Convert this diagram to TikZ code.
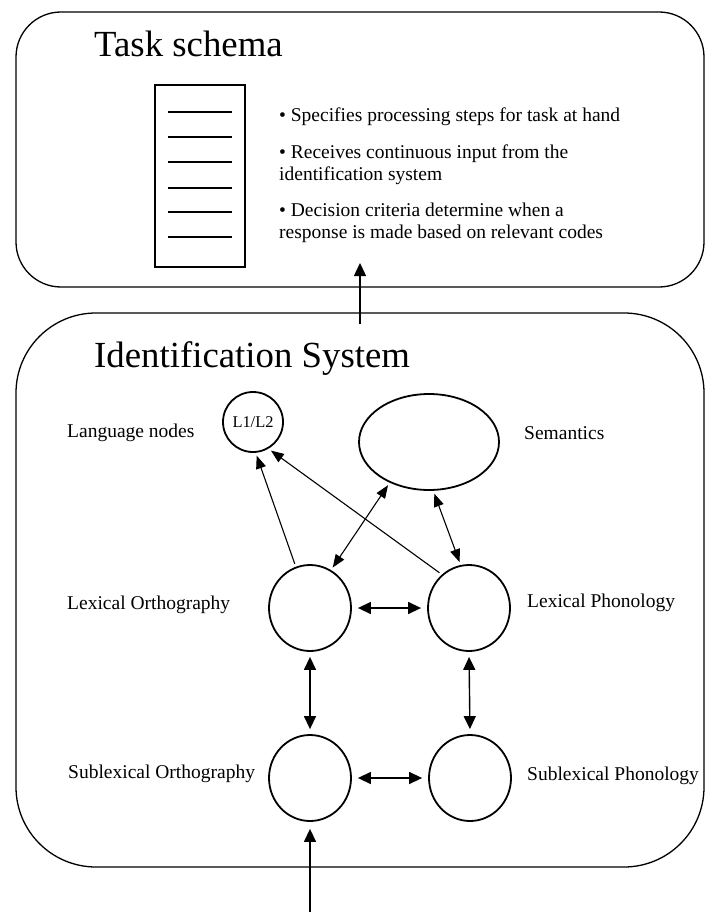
\documentclass[tikz,border=0pt]{standalone}
\usepackage{fontspec}
\setmainfont{Liberation Serif}
\usetikzlibrary{shapes.geometric,arrows.meta}
\begin{document}
\begin{tikzpicture}[x=1pt,y=-1pt,
  box/.style={draw, line width=1.3pt, inner sep=0},
  unit/.style={draw, ellipse, line width=1.8pt, inner sep=0, minimum width=82pt, minimum height=86pt},
  lab/.style={anchor=base west, inner sep=0, font=\fontsize{19.5}{23}\selectfont},
  ttl/.style={anchor=base west, inner sep=0, font=\fontsize{36.8}{40}\selectfont},
  bul/.style={anchor=base west, inner sep=0, align=left, font=\fontsize{19.5}{21.5}\selectfont},
  bigtip/.style={line width=1.4pt, -{Triangle[length=13pt,width=12pt]}},
  bigboth/.style={line width=1.4pt, {Triangle[length=13pt,width=12pt]}-{Triangle[length=13pt,width=12pt]}},
  smtip/.style={line width=1.1pt, -{Triangle[length=13pt,width=10pt]}, shorten >=3pt, shorten <=3pt},
  smboth/.style={line width=1.1pt, {Triangle[length=13pt,width=10pt]}-{Triangle[length=13pt,width=10pt]}, shorten >=3pt, shorten <=3pt}
]
\useasboundingbox (0,0) rectangle (705,912);

% Task schema box
\node[box, rounded corners=45pt, minimum width=688pt, minimum height=275pt] (task) at (360,149.5) {};
\node[ttl] (tasktitle) at (94,57) {Task schema};
\node[box, minimum width=90pt, minimum height=182pt] (list) at (200,176) {};
\foreach \yy in {112,137,162,188,212,237} \draw[line width=1.2pt] (168,\yy) -- (232,\yy);
\node[bul] (b1) at (279,122) {\textbullet\ Specifies processing steps for task at hand};
\node[bul] (b2) at (279,180) {\textbullet\ Receives continuous input from the\\identification system};
\node[bul] (b3) at (279,238) {\textbullet\ Decision criteria determine when a\\response is made based on relevant codes};

% Identification system box
\node[box, rounded corners=80pt, minimum width=688pt, minimum height=554pt] (ident) at (360,590) {};
\node[ttl] (identtitle) at (94,367) {Identification System};

% units
\node[draw, circle, line width=1.8pt, inner sep=0, minimum size=60pt, font=\fontsize{16.4}{18}\selectfont] (lang) at (253,422) {L1/L2};
\node[draw, ellipse, line width=1.8pt, inner sep=0, minimum width=140pt, minimum height=96pt] (sem) at (429,442) {};
\node[unit] (lo) at (310,608) {};
\node[unit] (lp) at (469,608) {};
\node[unit] (so) at (310,778) {};
\node[unit] (sp) at (470,778) {};

% labels
\node[lab] (langlab) at (67,437) {Language nodes};
\node[lab] (semlab) at (524,439) {Semantics};
\node[lab] (lolab) at (67,609) {Lexical Orthography};
\node[lab] (lplab) at (527,607) {Lexical Phonology};
\node[lab] (solab) at (68,778) {Sublexical Orthography};
\node[lab] (splab) at (527,780) {Sublexical Phonology};

% connectors
\draw[bigboth, shorten >=6pt, shorten <=6pt] (lo.east) -- (lp.west);
\draw[bigboth, shorten >=6pt, shorten <=6pt] (so.east) -- (sp.west);
\draw[bigboth, shorten >=5pt, shorten <=5pt] (lo.south) -- (so.north);
\draw[bigboth, shorten >=5pt, shorten <=5pt] (lp.south) -- (sp.north);
\draw[smtip] (lo.109) -- (lang.275);
\draw[smtip] (lp.129) -- (lang.300);
\draw[smboth] (sem.226) -- (lo.61);
\draw[smboth] (sem.275) -- (lp.101);

% input / output arrows
\coordinate (inbot) at (310,912);
\draw[bigtip, shorten >=7pt] (inbot) -- (so.south);
\coordinate (outbot) at (360,324);
\coordinate (outtop) at (360,263);
\draw[bigtip] (outbot) -- (outtop);
\end{tikzpicture}
\end{document}
